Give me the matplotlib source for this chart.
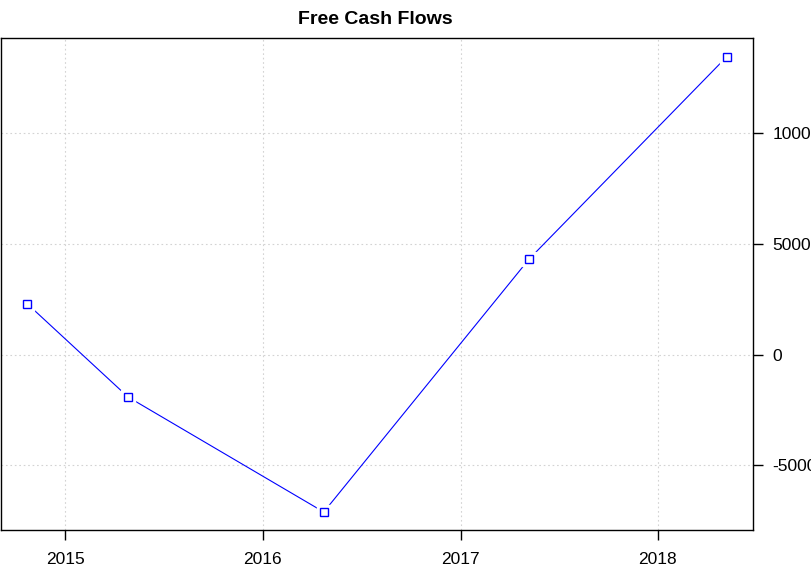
import matplotlib
matplotlib.use("Agg")
import matplotlib.pyplot as plt
import pandas as pd

# fiscal period dates and free cash flow values
dates = ["2014-10-23", "2015-04-27", "2016-04-23", "2017-05-08", "2018-05-08"]
fcf = [2285, -1923, -7127, 4321, 13462]
y_ticks = [-5000, 0, 5000, 10000]
x_ticks = ["2015-01-01", "2016-01-01", "2017-01-01", "2018-01-01"]
x_labels = ["2015", "2016", "2017", "2018"]

plt.rcParams["font.family"] = ["Liberation Sans", "DejaVu Sans"]

W, H = 811, 569
fig = plt.figure(figsize=(W / 100, H / 100), dpi=100)
ax = fig.add_axes([1 / W, 1 - 530 / H, 752 / W, 492 / H])

x = pd.to_datetime(dates)
# white squares under the markers give the small gaps of an R type="b" line
ax.plot(x, fcf, color="blue", lw=0.8, zorder=3)
ax.plot(x, fcf, ls="none", marker="s", ms=10, mfc="white", mec="white", zorder=4)
ax.plot(x, fcf, ls="none", marker="s", ms=6, mfc="none", mec="blue", mew=1.0, zorder=5)

ax.set_xlim(pd.Timestamp("2014-09-04"), pd.Timestamp("2018-06-26"))
ax.set_ylim(-7941, 14321)

ax.set_xticks(pd.to_datetime(x_ticks))
ax.set_xticklabels(x_labels)
ax.set_yticks(y_ticks)
ax.set_yticklabels([str(v) for v in y_ticks], ha="left")
ax.yaxis.tick_right()

ax.grid(True, color="#d3d3d3", ls=(0, (1.5, 2.5)), lw=0.8)
ax.set_axisbelow(True)
for s in ax.spines.values():
    s.set_linewidth(1.0)
ax.tick_params(axis="both", direction="out", length=7, width=1.0, labelsize=12.5)
ax.tick_params(axis="x", pad=9)
ax.tick_params(axis="y", pad=7)

fig.text(375 / W, 1 - 20 / H, "Free Cash Flows", ha="center", va="center",
         fontsize=14, fontweight="bold")

fig.savefig("out.png", dpi=100)
